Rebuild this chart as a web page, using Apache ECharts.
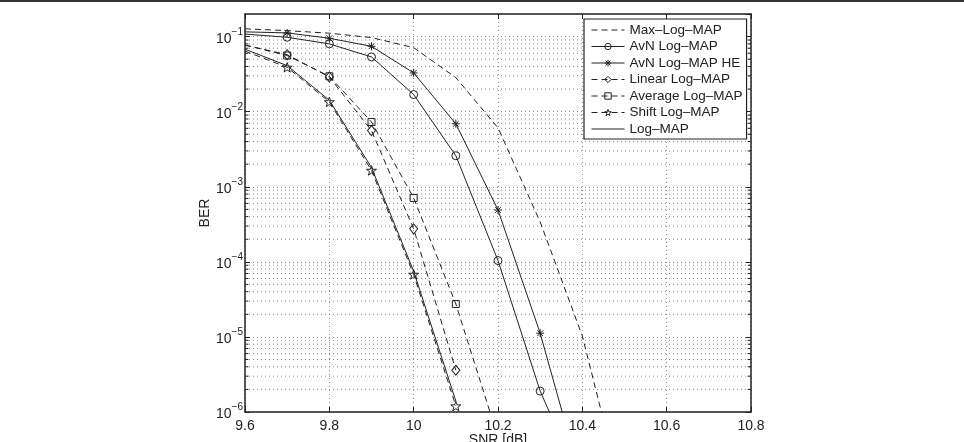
<!DOCTYPE html>
<html>
<head>
<meta charset="utf-8">
<script src="https://cdn.jsdelivr.net/npm/echarts@6/dist/echarts.min.js"></script>
<style>
  html, body { margin: 0; padding: 0; background: #fff; }
  #chart { width: 964px; height: 442px; }
</style>
</head>
<body>
<div id="chart"></div>
<script>
// SNR points (dB)
const snr = [9.6, 9.7, 9.8, 9.9, 10.0, 10.1, 10.2, 10.3, 10.4, 10.5];

// BER curves
const maxLogMap  = [0.127, 0.120, 0.111, 0.097, 0.0713, 0.0284, 6.1e-3, 3.4e-4, 1.03e-5, 6e-8];
const avnLogMap  = [0.108, 0.098, 0.080, 0.0536, 0.0169, 2.59e-3, 1.04e-4, 1.9e-6, 1e-7];
const avnHe      = [0.1156, 0.112, 0.095, 0.0743, 0.0328, 6.9e-3, 4.9e-4, 1.12e-5, 1.1e-7];
const linearLm   = [0.077, 0.0575, 0.029, 5.6e-3, 2.75e-4, 3.6e-6];
const averageLm  = [0.077, 0.056, 0.0296, 7.3e-3, 7.1e-4, 2.75e-5, 4.6e-7];
const shiftLm    = [0.064, 0.039, 0.0135, 1.65e-3, 6.8e-5, 1.2e-6];
const logMap     = [0.068, 0.041, 0.0142, 1.8e-3, 7.5e-5, 1.4e-6];

const legendNames = ['Max–Log–MAP', 'AvN Log–MAP', 'AvN Log–MAP HE', 'Linear Log–MAP',
    'Average Log–MAP', 'Shift Log–MAP', 'Log–MAP'];

// minor grid: 2..9 x each decade
const decades = [1e-6, 1e-5, 1e-4, 1e-3, 1e-2];
const mantissas = [2, 3, 4, 5, 6, 7, 8, 9];

const X_MIN = 9.6;
const X_MAX = 10.8;
const INK = '#222';
const GRID_GRAY = '#8a8a8a';
const FONT = 'Liberation Sans, Arial, sans-serif';
const DASH = [6, 4];
const DOT = [1, 3];

const ASTERISK = 'path://M0,-1L0,1M-1,0L1,0M-0.71,-0.71L0.71,0.71M-0.71,0.71L0.71,-0.71';
const PENTAGRAM = 'path://M0,-10L2.35,-3.24L9.51,-3.09L3.8,1.24L5.88,8.09L0,4L-5.88,8.09L-3.8,1.24L-9.51,-3.09L-2.35,-3.24Z';

// first point sits on the left axis, no marker there
function toData(values) {
    return values.map((v, i) => i === 0 ? { value: [snr[i], v], symbol: 'none' } : [snr[i], v]);
}

function makeSeries(name, values, dashed, symbol, size) {
    return {
        name: name,
        type: 'line',
        data: toData(values),
        symbol: symbol,
        symbolSize: size,
        symbolKeepAspect: true,
        clip: true,
        lineStyle: { color: INK, width: 1, type: dashed ? DASH : 'solid' },
        itemStyle: { color: 'rgba(255,255,255,0)', borderColor: INK, borderWidth: 1 },
        emphasis: { disabled: true },
        z: 3
    };
}

// horizontal guide pieces (minor grid and minor ticks) on the log axis
function guide(x0, x1, v, style) {
    return {
        type: 'line',
        data: [[x0, v], [x1, v]],
        symbol: 'none',
        silent: true,
        clip: true,
        lineStyle: style,
        emphasis: { disabled: true },
        tooltip: { show: false },
        z: style.type === 'solid' ? 4 : 1
    };
}

const minorValues = [];
decades.forEach(d => mantissas.forEach(m => minorValues.push(m * d)));

const guideSeries = [];
const gridStyle = { color: GRID_GRAY, width: 1, type: DOT };
const tickStyle = { color: INK, width: 1, type: 'solid' };
minorValues.forEach(v => {
    guideSeries.push(guide(X_MIN, X_MAX, v, gridStyle));
    guideSeries.push(guide(X_MIN, X_MIN + 0.008, v, tickStyle));
    guideSeries.push(guide(X_MAX - 0.008, X_MAX, v, tickStyle));
});

const series = [
    makeSeries(legendNames[0], maxLogMap, true, 'none', 0),
    makeSeries(legendNames[1], avnLogMap, false, 'circle', 8),
    makeSeries(legendNames[2], avnHe, false, ASTERISK, 8),
    makeSeries(legendNames[3], linearLm, true, 'diamond', [8, 10]),
    makeSeries(legendNames[4], averageLm, true, 'rect', 7),
    makeSeries(legendNames[5], shiftLm, true, PENTAGRAM, 10),
    makeSeries(legendNames[6], logMap, false, 'none', 0)
].concat(guideSeries);

function supLabel(value) {
    const exp = Math.round(Math.log10(value));
    return '{b|10}{s|' + (exp < 0 ? '−' : '') + Math.abs(exp) + '}';
}

const chart = echarts.init(document.getElementById('chart'), null, { renderer: 'canvas' });

const option = {
    animation: false,
    backgroundColor: '#fff',
    textStyle: { fontFamily: FONT },
    graphic: [{
        type: 'line',
        shape: { x1: 0, y1: 1, x2: 964, y2: 1 },
        style: { stroke: '#333', lineWidth: 2 },
        silent: true
    }],
    grid: { left: 245, right: 213, top: 14, bottom: 30, show: false, outerBoundsMode: 'none' },
    legend: {
        data: legendNames.map((name, i) => (i === 0 || i === 6)
            ? { name: name, itemStyle: { opacity: 0 } }
            : { name: name }),
        orient: 'vertical',
        left: 584,
        top: 19,
        itemWidth: 33,
        itemHeight: 8,
        itemGap: 2.5,
        padding: [4, 4, 3, 7],
        backgroundColor: '#fff',
        borderColor: INK,
        borderWidth: 1.2,
        borderRadius: 0,
        selectedMode: false,
        lineStyle: { width: 1 },
        itemStyle: { borderWidth: 1 },
        textStyle: { color: INK, fontSize: 13.5, fontFamily: FONT, lineHeight: 14 }
    },
    xAxis: [{
        type: 'value',
        min: X_MIN,
        max: X_MAX,
        interval: 0.2,
        position: 'bottom',
        name: 'SNR [dB]',
        nameLocation: 'middle',
        nameGap: 21,
        nameMoveOverlap: false,
        nameTextStyle: { color: INK, fontSize: 14, fontFamily: FONT },
        axisLine: { show: true, lineStyle: { color: INK, width: 1.5 } },
        axisTick: { show: true, inside: true, length: 5, lineStyle: { color: INK, width: 1 } },
        axisLabel: { color: INK, fontSize: 14, fontFamily: FONT, margin: 7 },
        splitLine: { show: true, lineStyle: gridStyle }
    }, {
        type: 'value',
        min: X_MIN,
        max: X_MAX,
        interval: 0.2,
        position: 'top',
        axisLine: { show: true, lineStyle: { color: INK, width: 1.5 } },
        axisTick: { show: true, inside: true, length: 5, lineStyle: { color: INK, width: 1 } },
        axisLabel: { show: false },
        splitLine: { show: false }
    }],
    yAxis: [{
        type: 'log',
        logBase: 10,
        min: 1e-6,
        max: 0.2,
        interval: 1,
        position: 'left',
        name: 'BER',
        nameLocation: 'middle',
        nameGap: 33,
        nameMoveOverlap: false,
        nameTextStyle: { color: INK, fontSize: 14, fontFamily: FONT },
        axisLine: { show: true, lineStyle: { color: INK, width: 1.5 } },
        axisTick: { show: true, inside: true, length: 5, lineStyle: { color: INK, width: 1 } },
        axisLabel: {
            color: INK,
            margin: 2,
            showMaxLabel: false,
            formatter: supLabel,
            rich: {
                b: { fontSize: 14, fontFamily: FONT, color: INK, verticalAlign: 'bottom', lineHeight: 15 },
                s: { fontSize: 10, fontFamily: FONT, color: INK, verticalAlign: 'bottom', padding: [0, 0, 9, 0] }
            }
        },
        splitLine: { show: true, lineStyle: gridStyle }
    }, {
        type: 'log',
        logBase: 10,
        min: 1e-6,
        max: 0.2,
        interval: 1,
        position: 'right',
        axisLine: { show: true, lineStyle: { color: INK, width: 1.5 } },
        axisTick: { show: true, inside: true, length: 5, lineStyle: { color: INK, width: 1 } },
        axisLabel: { show: false },
        splitLine: { show: false }
    }],
    series: series
};

chart.setOption(option);
window.addEventListener('resize', () => chart.resize());
</script>
</body>
</html>
